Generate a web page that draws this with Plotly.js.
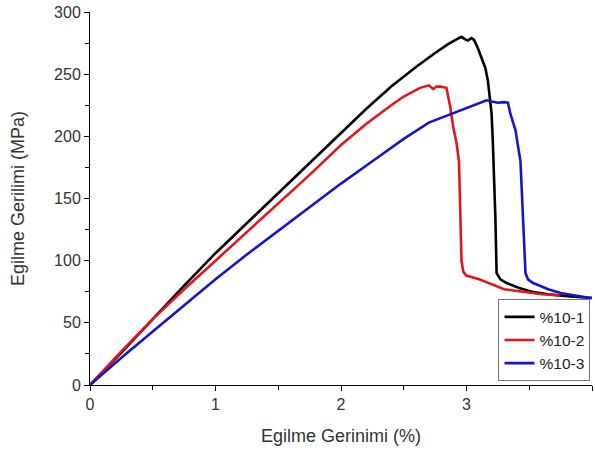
<!DOCTYPE html>
<html>
<head>
<meta charset="utf-8">
<script src="https://cdn.plot.ly/plotly-3.0.1.min.js"></script>
<style>html,body{margin:0;padding:0;background:#fff;}#chart{width:595px;height:454px;}</style>
</head>
<body>
<div id="chart"></div>
<script>
const seriesNames = ["%10-1", "%10-2", "%10-3"];

const strain1 = [0, 0.25, 0.5, 0.75, 1.0, 1.25, 1.5, 1.75, 2.0, 2.2, 2.4, 2.6, 2.75, 2.85, 2.92, 2.96, 2.99, 3.01, 3.04, 3.06, 3.09, 3.12, 3.15, 3.17, 3.19, 3.2, 3.21, 3.22, 3.23, 3.24, 3.27, 3.32, 3.42, 3.52, 3.65, 3.8, 3.92, 4.0];
const stress1 = [0, 26, 53, 80, 106, 130, 154, 178, 202, 222, 240, 256, 267, 274, 278, 280, 278, 277, 279, 277.5, 271, 263, 255, 245, 228, 218, 195, 170, 135, 90, 85, 82, 78, 75, 73, 71.5, 70.5, 70];

const strain2 = [0, 0.25, 0.5, 0.75, 1.0, 1.25, 1.5, 1.75, 2.0, 2.2, 2.4, 2.5, 2.63, 2.7, 2.735, 2.76, 2.79, 2.84, 2.87, 2.895, 2.92, 2.94, 2.95, 2.96, 2.975, 3.0, 3.1, 3.2, 3.3, 3.45, 3.6, 3.75];
const stress2 = [0, 27, 53, 77, 100, 123, 146, 169, 193, 210, 225, 232, 239, 241, 238, 240, 240, 239, 224, 207, 195, 180, 141, 100, 91, 88, 85, 81, 77, 75, 73, 72];

const strain3 = [0, 0.25, 0.5, 0.75, 1.0, 1.25, 1.5, 1.75, 2.0, 2.25, 2.5, 2.7, 2.9, 3.05, 3.16, 3.2, 3.25, 3.3, 3.33, 3.35, 3.39, 3.43, 3.44, 3.455, 3.47, 3.49, 3.53, 3.58, 3.65, 3.75, 3.85, 3.95, 4.0];
const stress3 = [0, 22, 43, 64, 85, 105, 124, 143, 162, 180, 198, 211, 219, 225, 229, 228, 227, 227.5, 227, 218, 205, 180, 160, 125, 90, 85, 82, 80, 77, 74, 72, 70.5, 70];

const xTickVals = [0, 1, 2, 3, 4];
const yTickVals = [0, 50, 100, 150, 200, 250, 300];

const colors = ["#000000", "#e3161d", "#1616c6"];
const xs = [strain1, strain2, strain3];
const ys = [stress1, stress2, stress3];

const traces = seriesNames.map((n, i) => ({
  x: xs[i], y: ys[i], name: n, type: "scatter", mode: "lines",
  line: {color: colors[i], width: 2.6, shape: "linear"}
}));

const fam = "'Liberation Sans', Arial, sans-serif";

const layout = {
  width: 595, height: 454,
  margin: {l: 90, r: 3, t: 12, b: 69},
  paper_bgcolor: "#fff", plot_bgcolor: "#fff",
  font: {family: fam, color: "#333", size: 16},
  showlegend: true,
  legend: {
    x: 0.997, xanchor: "right", y: 0.01, yanchor: "bottom",
    bgcolor: "#fff", bordercolor: "#777", borderwidth: 1,
    font: {family: fam, size: 15.5, color: "#222"},
    tracegroupgap: 0, itemwidth: 30
  },
  xaxis: {
    range: [0, 4], tickvals: xTickVals, ticktext: xTickVals.map(String),
    showgrid: false, zeroline: false, showline: true, linecolor: "#000", linewidth: 1,
    ticks: "outside", ticklen: 5, tickcolor: "#000", tickfont: {family: fam, size: 16, color: "#333"},
    minor: {tickvals: [0.5, 1.5, 2.5, 3.5], ticks: "outside", ticklen: 4, tickcolor: "#000", showgrid: false},
    title: {text: "Egilme Gerinimi (%)", font: {family: fam, size: 18, color: "#333"}, standoff: 17}
  },
  yaxis: {
    range: [0, 300], tickvals: yTickVals, ticktext: yTickVals.map(String),
    showgrid: false, zeroline: false, showline: true, linecolor: "#000", linewidth: 1,
    ticks: "outside", ticklen: 5, tickcolor: "#000", tickfont: {family: fam, size: 16, color: "#333"},
    minor: {tickvals: [25, 75, 125, 175, 225, 275], ticks: "outside", ticklen: 4, tickcolor: "#000", showgrid: false},
    title: {text: "Egilme Gerilimi (MPa)", font: {family: fam, size: 18, color: "#333"}, standoff: 24}
  }
};

Plotly.newPlot("chart", traces, layout, {displayModeBar: false, staticPlot: true});
</script>
</body>
</html>
